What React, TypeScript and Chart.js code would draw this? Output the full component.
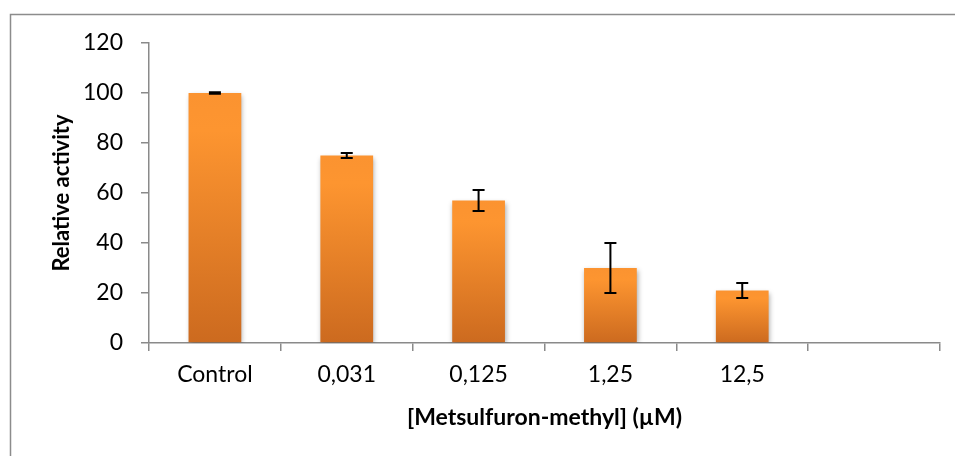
import React, { useEffect, useRef } from "react";
import { Chart, registerables } from "chart.js";

Chart.register(...registerables);

const categories = ["Control", "0,031", "0,125", "1,25", "12,5", ""];
const activity: (number | null)[] = [100, 75, 57, 30, 21, null];
const errors: (number | null)[] = [0.3, 1, 4.2, 10, 3, null];
const yTicks = [0, 20, 40, 60, 80, 100, 120];

const FONT = "Lato";
const AXIS_GRAY = "#8a8a8a";

const frameBorder = {
  id: "frameBorder",
  beforeDraw(chart: any) {
    const ctx = chart.ctx;
    ctx.save();
    ctx.fillStyle = "#ffffff";
    ctx.fillRect(0, 0, chart.width, chart.height);
    ctx.strokeStyle = "#8c8c8c";
    ctx.lineWidth = 1.5;
    ctx.beginPath();
    ctx.moveTo(10.5, chart.height + 2);
    ctx.lineTo(10.5, 14.5);
    ctx.lineTo(chart.width + 2, 14.5);
    ctx.stroke();
    ctx.restore();
  },
};

const barShadow = {
  id: "barShadow",
  beforeDatasetsDraw(chart: any) {
    const ctx = chart.ctx;
    ctx.save();
    ctx.shadowColor = "rgba(0,0,0,0.35)";
    ctx.shadowBlur = 5;
    ctx.shadowOffsetX = 1;
    ctx.shadowOffsetY = 2;
  },
  afterDatasetsDraw(chart: any) {
    chart.ctx.restore();
  },
};

const errorBars = {
  id: "errorBars",
  afterDatasetsDraw(chart: any) {
    const ctx = chart.ctx;
    const y = chart.scales.y;
    const meta = chart.getDatasetMeta(0);
    ctx.save();
    ctx.strokeStyle = "#000000";
    ctx.lineWidth = 2;
    meta.data.forEach((bar: any, i: number) => {
      const v = activity[i];
      const e = errors[i];
      if (v == null || e == null) return;
      const x = bar.x;
      const top = y.getPixelForValue(v + e);
      const bot = y.getPixelForValue(v - e);
      const cap = 6;
      ctx.beginPath();
      ctx.moveTo(x, top);
      ctx.lineTo(x, bot);
      ctx.moveTo(x - cap, top);
      ctx.lineTo(x + cap, top);
      ctx.moveTo(x - cap, bot);
      ctx.lineTo(x + cap, bot);
      ctx.stroke();
    });
    ctx.restore();
  },
};

export default function App() {
  const ref = useRef<HTMLCanvasElement | null>(null);

  useEffect(() => {
    if (!ref.current) return;
    const chart = new Chart(ref.current, {
      type: "bar",
      data: {
        labels: categories,
        datasets: [
          {
            data: activity as any,
            backgroundColor: (c: any) => {
              const ch = c.chart;
              const v = activity[c.dataIndex];
              if (!ch.chartArea || v == null) return "#f7922e";
              const ys = ch.scales.y;
              const top = ys.getPixelForValue(v);
              const base = ys.getPixelForValue(0);
              const g = ch.ctx.createLinearGradient(0, top, 0, base);
              g.addColorStop(0, "#fb9330");
              g.addColorStop(0.15, "#fd9530");
              g.addColorStop(1, "#cc6a1f");
              return g;
            },
            borderWidth: 0,
            barPercentage: 0.4,
            categoryPercentage: 1,
          },
        ],
      },
      options: {
        animation: false,
        responsive: false,
        devicePixelRatio: 1,
        layout: { padding: { left: 0, top: 43, right: 15, bottom: 0 } },
        plugins: {
          legend: { display: false },
          tooltip: { enabled: false },
        },
        scales: {
          x: {
            offset: true,
            grid: {
              offset: true,
              drawOnChartArea: false,
              drawTicks: true,
              tickLength: 8,
              color: AXIS_GRAY,
              lineWidth: 1.5,
            },
            border: { display: true, color: AXIS_GRAY, width: 1.5 },
            ticks: {
              color: "#000000",
              font: { family: FONT, size: 23 },
              padding: 10,
            },
            title: {
              display: true,
              text: "[Metsulfuron-methyl] (µM)",
              color: "#000000",
              font: { family: FONT, size: 23, weight: "bold" },
              padding: { top: 0, bottom: 25 },
            },
            afterFit: (s: any) => {
              s.height = 113;
            },
          },
          y: {
            min: 0,
            max: 120,
            afterBuildTicks: (s: any) => {
              s.ticks = yTicks.map((v) => ({ value: v }));
            },
            grid: {
              drawOnChartArea: false,
              drawTicks: true,
              tickLength: 8,
              color: AXIS_GRAY,
              lineWidth: 1.5,
            },
            border: { display: true, color: AXIS_GRAY, width: 1.5 },
            ticks: {
              color: "#000000",
              font: { family: FONT, size: 23 },
              padding: 18,
            },
            title: {
              display: true,
              text: "Relative activity",
              color: "#000000",
              font: { family: FONT, size: 22, weight: "bold" },
              padding: { top: 49, bottom: 0 },
            },
            afterFit: (s: any) => {
              s.width = 149;
            },
          },
        },
      },
      plugins: [frameBorder, barShadow, errorBars],
    });
    return () => chart.destroy();
  }, []);

  return (
    <div style={{ position: "fixed", left: 0, top: 0, width: 955, height: 456 }}>
      <canvas ref={ref} width={955} height={456} style={{ display: "block" }} />
    </div>
  );
}
